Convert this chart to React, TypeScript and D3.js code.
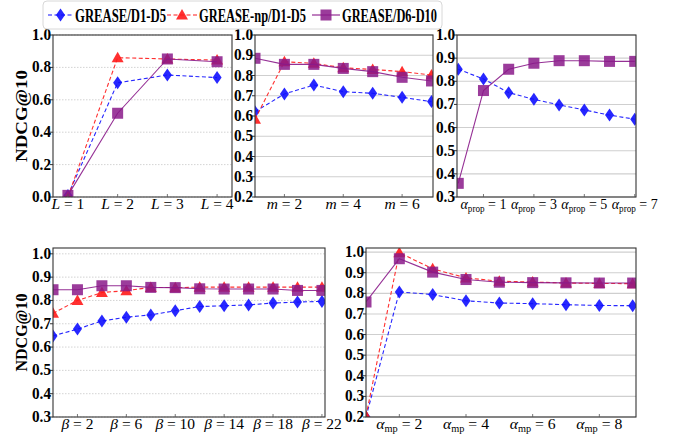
import React from 'react'
import * as d3 from 'd3'

const seriesNames = ['GREASE/D1-D5', 'GREASE-np/D1-D5', 'GREASE/D6-D10']

const layerX = [1, 2, 3, 4]
const layerBlue = [0.01, 0.705, 0.753, 0.737]
const layerRed = [0.0, 0.86, 0.852, 0.845]
const layerPurple = [0.01, 0.517, 0.852, 0.835]

const mX = [1, 2, 3, 4, 5, 6, 7]
const mBlue = [0.621, 0.709, 0.753, 0.72, 0.712, 0.692, 0.671]
const mRed = [0.584, 0.868, 0.86, 0.838, 0.83, 0.819, 0.802]
const mPurple = [0.885, 0.855, 0.855, 0.835, 0.819, 0.791, 0.773]

const propX = [0, 1, 2, 3, 4, 5, 6, 7]
const propBlue = [0.852, 0.81, 0.751, 0.722, 0.698, 0.676, 0.654, 0.636]
const propPurple = [0.359, 0.76, 0.852, 0.878, 0.889, 0.889, 0.886, 0.886]

const betaX = [0, 2, 4, 6, 8, 10, 12, 14, 16, 18, 20, 22]
const betaBlue = [0.648, 0.677, 0.712, 0.728, 0.738, 0.756, 0.774, 0.777, 0.781, 0.789, 0.793, 0.796]
const betaRed = [0.745, 0.8, 0.834, 0.842, 0.856, 0.855, 0.857, 0.857, 0.857, 0.857, 0.857, 0.857]
const betaPurple = [0.846, 0.846, 0.863, 0.863, 0.856, 0.855, 0.85, 0.849, 0.849, 0.849, 0.843, 0.843]

const mpX = [1, 2, 3, 4, 5, 6, 7, 8, 9]
const mpBlue = [0.2, 0.807, 0.794, 0.764, 0.753, 0.75, 0.745, 0.741, 0.74]
const mpRed = [0.205, 0.997, 0.919, 0.875, 0.859, 0.855, 0.85, 0.848, 0.847]
const mpPurple = [0.758, 0.968, 0.903, 0.867, 0.854, 0.852, 0.851, 0.85, 0.85]

const BLUE = '#1010ff'
const RED = '#ff1a1a'
const PURPLE = '#8a1a8a'
const serif = '"Liberation Serif", "DejaVu Serif", serif'

const Marker = ({kind, x, y, color}) => {
  if (kind === 'diamond') {
    return <path d={`M${x},${y - 6.5} L${x + 4.5},${y} L${x},${y + 6.5} L${x - 4.5},${y} Z`} fill={color} fillOpacity={0.9} />
  }
  if (kind === 'triangle') {
    return <path d={`M${x},${y - 6} L${x + 6},${y + 4.5} L${x - 6},${y + 4.5} Z`} fill={color} fillOpacity={0.9} />
  }
  return <rect x={x - 5.5} y={y - 5.5} width={11} height={11} fill={color} fillOpacity={0.85} />
}

const TickLabel = ({kind, v}) => {
  if (kind === 'L') return <><tspan fontStyle="italic">L</tspan> = {v}</>
  if (kind === 'm') return <><tspan fontStyle="italic">m</tspan> = {v}</>
  if (kind === 'beta') return <><tspan fontStyle="italic">β</tspan> = {v}</>
  const sub = kind === 'prop' ? 'prop' : 'mp'
  return (
    <>
      <tspan fontStyle="italic">α</tspan>
      <tspan fontSize={9.5} dy={3}>{sub}</tspan>
      <tspan dy={-3}> = {v}</tspan>
    </>
  )
}

const Panel = ({id, box, xDomain, yDomain, yTicks, xTicks, tickKind, xs, series, dotted, ylabel, ylabelLen}) => {
  const [left, top, right, bottom] = box
  const x = d3.scaleLinear().domain(xDomain).range([left, right])
  const y = d3.scaleLinear().domain(yDomain).range([bottom, top])
  const line = d3.line().x(d => x(d[0])).y(d => y(d[1]))
  const isAlpha = tickKind === 'prop' || tickKind === 'mp'
  return (
    <g>
      <defs>
        <clipPath id={id}>
          <rect x={left} y={top} width={right - left} height={bottom - top} />
        </clipPath>
      </defs>
      <rect x={left} y={top} width={right - left} height={bottom - top} fill="white" />
      {yTicks.map(t => (
        <line key={t} x1={left} x2={right} y1={y(t)} y2={y(t)}
          stroke={dotted ? '#c8c8c8' : '#cfcfcf'} strokeWidth={dotted ? 0.8 : 1.1}
          strokeDasharray={dotted ? '1.5,1.5' : null} />
      ))}
      <g clipPath={`url(#${id})`}>
        {series.map(s => (
          <g key={s.name}>
            <path d={line(xs.map((v, i) => [v, s.values[i]]))} fill="none" stroke={s.color}
              strokeWidth={1.1} strokeOpacity={0.9} strokeDasharray={s.dash ? '4,2.5' : null} />
            {xs.map((v, i) => (
              <Marker key={i} kind={s.marker} x={x(v)} y={y(s.values[i])} color={s.color} />
            ))}
          </g>
        ))}
      </g>
      <rect x={left} y={top} width={right - left} height={bottom - top} fill="none" stroke="#333" strokeWidth={1.1} />
      {yTicks.map(t => (
        <g key={t}>
          <line x1={left - 3} x2={left} y1={y(t)} y2={y(t)} stroke="#333" />
          <text x={left - 2} y={y(t) + 5} textAnchor="end" fontFamily={serif} fontWeight="bold"
            fontSize={16} textLength={19} lengthAdjust="spacingAndGlyphs">{d3.format('.1f')(t)}</text>
        </g>
      ))}
      {xTicks.map(t => (
        <g key={t}>
          <line x1={x(t)} x2={x(t)} y1={bottom - 3} y2={bottom} stroke="#555" strokeWidth={0.8} />
          <text x={x(t)} y={bottom + 11.5} textAnchor="middle" fontFamily={serif}
            fontSize={isAlpha ? 14.5 : 15.5}
            textLength={isAlpha ? 46 : null} lengthAdjust="spacingAndGlyphs">
            <TickLabel kind={tickKind} v={t} />
          </text>
        </g>
      ))}
      {ylabel && (
        <text transform={`translate(27,${(top + bottom) / 2}) rotate(-90)`} textAnchor="middle"
          fontFamily={serif} fontWeight="bold" fontSize={17} textLength={ylabelLen}
          lengthAdjust="spacingAndGlyphs">{ylabel}</text>
      )}
    </g>
  )
}

const mk = (blue, red, purple) => {
  const out = [{name: seriesNames[0], values: blue, color: BLUE, marker: 'diamond', dash: true}]
  if (red) out.push({name: seriesNames[1], values: red, color: RED, marker: 'triangle', dash: true})
  out.push({name: seriesNames[2], values: purple, color: PURPLE, marker: 'square', dash: false})
  return out
}

const Legend = () => {
  const sx = 0.72
  const items = [
    {x0: 48, x1: 73, tx: 75, tl: 91, color: BLUE, marker: 'diamond', dash: true},
    {x0: 167, x1: 197, tx: 199, tl: 107, color: RED, marker: 'triangle', dash: true},
    {x0: 312, x1: 340, tx: 342, tl: 95, color: PURPLE, marker: 'square', dash: false},
  ]
  return (
    <g>
      <rect x={43} y={1} width={399} height={28} rx={4} fill="white" stroke="#d8d8d8" />
      {items.map((it, i) => (
        <g key={i}>
          <line x1={it.x0} x2={it.x1} y1={15} y2={15} stroke={it.color} strokeWidth={1.1}
            strokeDasharray={it.dash ? '4,2.5' : null} />
          <Marker kind={it.marker} x={(it.x0 + it.x1) / 2} y={15} color={it.color} />
          <text transform={`translate(${it.tx},21.5) scale(${sx},1)`} fontFamily={serif}
            fontWeight="bold" fontSize={18.5} textLength={it.tl / sx}
            lengthAdjust="spacingAndGlyphs">{seriesNames[i]}</text>
        </g>
      ))}
    </g>
  )
}

export default function App() {
  return (
    <svg width={677} height={436} style={{position: 'absolute', left: 0, top: 0}}>
      <rect width={677} height={436} fill="white" />
      <Panel id="c1" box={[53, 35, 232, 197]} xDomain={[0.7, 4.3]} yDomain={[0, 1]}
        yTicks={[0, 0.2, 0.4, 0.6, 0.8, 1.0]} xTicks={[1, 2, 3, 4]} tickKind="L" xs={layerX}
        series={mk(layerBlue, layerRed, layerPurple)} dotted ylabel="NDCG@10" ylabelLen={92} />
      <Panel id="c2" box={[255, 35, 433, 197]} xDomain={[1, 7.05]} yDomain={[0.2, 1]}
        yTicks={d3.range(0.2, 1.001, 0.1)} xTicks={[2, 4, 6]} tickKind="m" xs={mX}
        series={mk(mBlue, mRed, mPurple)} />
      <Panel id="c3" box={[457, 35, 636, 197]} xDomain={[-0.05, 7.05]} yDomain={[0.3, 1]}
        yTicks={d3.range(0.3, 1.001, 0.1)} xTicks={[1, 3, 5, 7]} tickKind="prop" xs={propX}
        series={mk(propBlue, null, propPurple)} />
      <Panel id="c4" box={[53, 248, 325, 417]} xDomain={[0, 22.25]} yDomain={[0.3, 1.025]}
        yTicks={d3.range(0.3, 1.001, 0.1)} xTicks={[2, 6, 10, 14, 18, 22]} tickKind="beta" xs={betaX}
        series={mk(betaBlue, betaRed, betaPurple)} dotted ylabel="NDCG@10" ylabelLen={78} />
      <Panel id="c5" box={[366, 248, 636, 417]} xDomain={[1, 9.1]} yDomain={[0.2, 1.02]}
        yTicks={d3.range(0.2, 1.001, 0.1)} xTicks={[2, 4, 6, 8]} tickKind="mp" xs={mpX}
        series={mk(mpBlue, mpRed, mpPurple)} />
      <Legend />
    </svg>
  )
}
